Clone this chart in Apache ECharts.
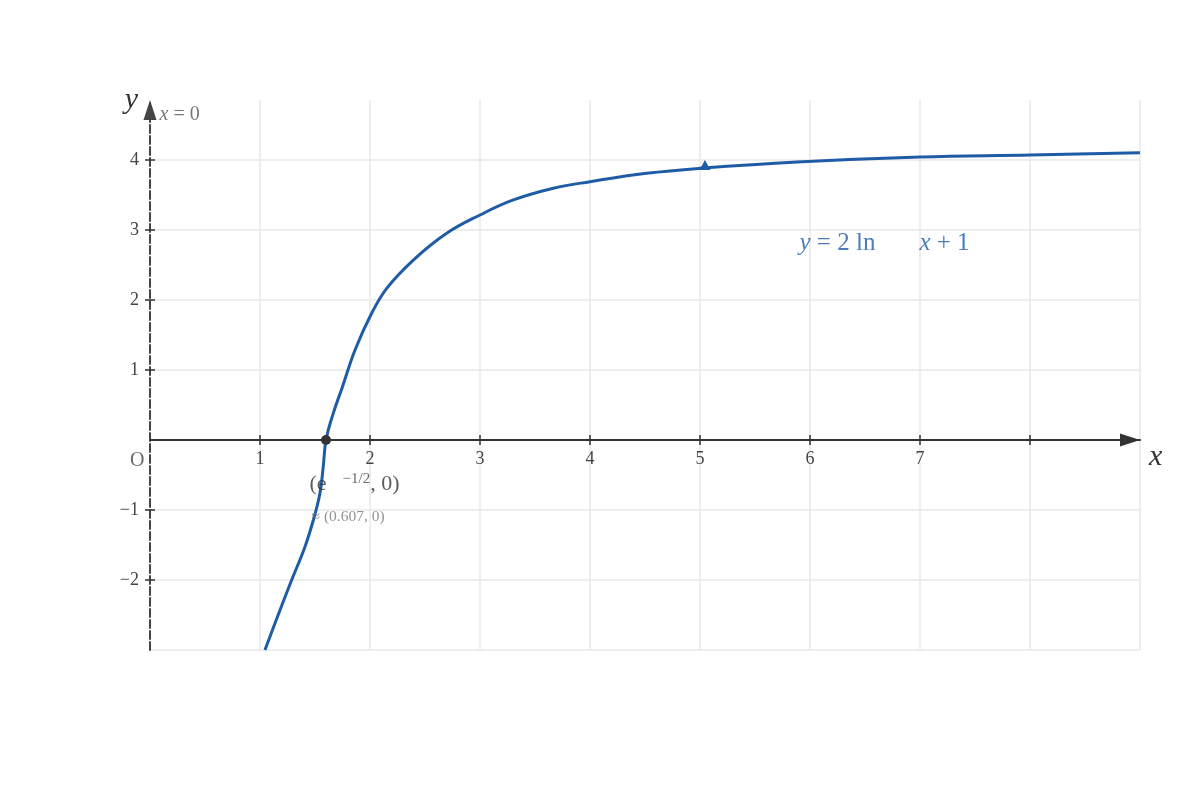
<!DOCTYPE html>
<html><head><meta charset="utf-8">
<script src="https://cdn.jsdelivr.net/npm/echarts@6/dist/echarts.min.js"></script>
<style>html,body{margin:0;padding:0;background:#fff}#c{width:1200px;height:800px}</style>
</head><body><div id="c"></div>
<script>
// ---- data ----
const curveX = [1.045, 1.182, 1.288, 1.409, 1.485, 1.545, 1.575, 1.6, 1.666, 1.75, 1.864, 2.015, 2.152, 2.394, 2.697, 3.0, 3.303, 3.667, 4.0, 4.515, 5.0, 5.882, 7.0, 8.0, 9.0];
const curveY = [-3.0, -2.429, -2.0, -1.524, -1.143, -0.762, -0.381, 0.0, 0.381, 0.762, 1.286, 1.81, 2.167, 2.571, 2.953, 3.214, 3.429, 3.596, 3.69, 3.81, 3.881, 3.971, 4.043, 4.071, 4.104];
const xRange = [0, 9];
const yRange = [-3, 4.857];
const xTickValues = [1, 2, 3, 4, 5, 6, 7, 8];
const xLabelValues = [1, 2, 3, 4, 5, 6, 7];
const yTickValues = [-2, -1, 1, 2, 3, 4];
const yLabelValues = [-2, -1, 1, 2, 3, 4];
const rootPoint = [1.6, 0];
const arrowPoint = [5.045, 3.93];
const equationAnchor = [5.909, 2.807];
const asymptoteAnchor = [0, 4.857];
const originPoint = [0, 0];
const equationText = '{i|y}{n| = 2 ln}{g|}{i|x}{n| + 1}';
const rootText = '{b|(e}{g|}{s|\u22121/2}{b|, 0)}';
const rootApproxText = '\u2248 (0.607, 0)';
const asymptoteText = '{i|x}{n| = 0}';
const originText = 'O';

// ---- styles ----
const FONT = 'Liberation Serif';
const BLUE = '#1f5ca6';
const AXIS = '#333';
const GRIDC = '#e8e8e8';

const chart = echarts.init(document.getElementById('c'), null, {renderer: 'canvas'});

function tickAxis(position, values) {
  return {
    type: 'value', min: xRange[0], max: xRange[1], interval: 1, position: position,
    axisLine: {show: false, onZero: true, onZeroAxisIndex: 0},
    axisTick: {show: true, customValues: values, length: 5, lineStyle: {color: AXIS, width: 1.5}},
    axisLabel: {show: false}, splitLine: {show: false}
  };
}
function yTickAxis(position, values) {
  return {
    type: 'value', min: yRange[0], max: yRange[1], interval: 1, position: position,
    axisLine: {show: false, onZero: true, onZeroAxisIndex: 0},
    axisTick: {show: true, customValues: values, length: 5, lineStyle: {color: AXIS, width: 1.5}},
    axisLabel: {show: false}, splitLine: {show: false}
  };
}

const option = {
  animation: false,
  backgroundColor: '#fff',
  grid: {left: 150, right: 60, top: 100, bottom: 150, containLabel: false},
  xAxis: [
    {
      type: 'value', min: xRange[0], max: xRange[1], interval: 1, position: 'bottom', offset: -210,
      name: 'x', nameLocation: 'end', nameGap: 9,
      nameTextStyle: {fontFamily: FONT, fontStyle: 'italic', fontSize: 30, color: AXIS, verticalAlign: 'top', lineHeight: 34, align: 'left'},
      axisLine: {show: true, onZero: false, symbol: ['none', 'triangle'], symbolSize: [13, 20], symbolOffset: [0, -10],
        lineStyle: {color: AXIS, width: 2}},
      axisTick: {show: false},
      axisLabel: {show: true, customValues: xLabelValues, margin: 10, fontFamily: FONT, fontSize: 18, color: '#444'},
      splitLine: {show: true, showMinLine: false, showMaxLine: true, lineStyle: {color: GRIDC, width: 1.5}}
    },
    tickAxis('bottom', xTickValues),
    tickAxis('top', xTickValues)
  ],
  yAxis: [
    {
      type: 'value', min: yRange[0], max: yRange[1], interval: 1, position: 'left',
      name: 'y', nameLocation: 'end', nameGap: 0,
      nameTextStyle: {fontFamily: FONT, fontStyle: 'italic', fontSize: 30, color: AXIS, align: 'right', verticalAlign: 'middle', padding: [6, 12, 0, 0]},
      axisLine: {show: true, onZero: true, onZeroAxisIndex: 0, symbol: ['none', 'triangle'], symbolSize: [13, 20], symbolOffset: [0, -10],
        lineStyle: {color: '#444', width: 2, type: [8, 3]}},
      axisTick: {show: false},
      axisLabel: {show: true, customValues: yLabelValues, margin: 11, fontFamily: FONT, fontSize: 18, color: '#444',
        formatter: function (v) { return String(v).replace('-', '\u2212'); }},
      splitLine: {show: true, showMinLine: true, showMaxLine: false, lineStyle: {color: GRIDC, width: 1.5}}
    },
    yTickAxis('left', yTickValues),
    yTickAxis('right', yTickValues)
  ],
  series: [
    {
      type: 'line', xAxisIndex: 0, yAxisIndex: 0, z: 3,
      data: curveX.map(function (x, i) { return [x, curveY[i]]; }),
      showSymbol: false, smooth: 0.4, silent: true,
      lineStyle: {color: BLUE, width: 3}
    },
    {
      type: 'scatter', xAxisIndex: 0, yAxisIndex: 0, z: 4, silent: true,
      symbol: 'triangle', symbolSize: [11, 10],
      itemStyle: {color: BLUE, opacity: 1},
      data: [arrowPoint]
    },
    {
      type: 'scatter', xAxisIndex: 0, yAxisIndex: 0, z: 5, silent: true,
      symbolSize: 10, itemStyle: {color: '#333', opacity: 1},
      data: [rootPoint]
    },
    {
      type: 'scatter', xAxisIndex: 0, yAxisIndex: 0, z: 6, silent: true,
      symbolSize: 1, itemStyle: {color: 'rgba(0,0,0,0)'},
      data: [
        {value: rootPoint, label: {show: true, position: [-16, 45], align: 'left', verticalAlign: 'middle',
          formatter: rootText,
          rich: {
            b: {fontFamily: FONT, fontSize: 22, color: '#333', lineHeight: 26},
            g: {width: 16, height: 10},
            s: {fontFamily: FONT, fontSize: 15, color: '#444', verticalAlign: 'top', lineHeight: 14}
          }}},
        {value: rootPoint, label: {show: true, position: [-14, 77], align: 'left', verticalAlign: 'middle',
          formatter: rootApproxText, fontFamily: FONT, fontSize: 15.5, color: '#777'}},
        {value: equationAnchor, label: {show: true, position: [0, 0], align: 'left', verticalAlign: 'middle',
          formatter: equationText,
          rich: {
            i: {fontFamily: FONT, fontStyle: 'italic', fontSize: 25, color: BLUE},
            n: {fontFamily: FONT, fontSize: 25, color: BLUE},
            g: {width: 44, height: 10}
          }}},
        {value: asymptoteAnchor, label: {show: true, position: [10, 15], align: 'left', verticalAlign: 'middle',
          formatter: asymptoteText,
          rich: {
            i: {fontFamily: FONT, fontStyle: 'italic', fontSize: 20, color: '#555'},
            n: {fontFamily: FONT, fontSize: 20, color: '#555'}
          }}},
        {value: originPoint, label: {show: true, position: [-5, 21], align: 'right', verticalAlign: 'middle',
          formatter: originText, fontFamily: FONT, fontSize: 20, color: '#444'}}
      ]
    }
  ]
};
chart.setOption(option);
</script>
</body></html>
